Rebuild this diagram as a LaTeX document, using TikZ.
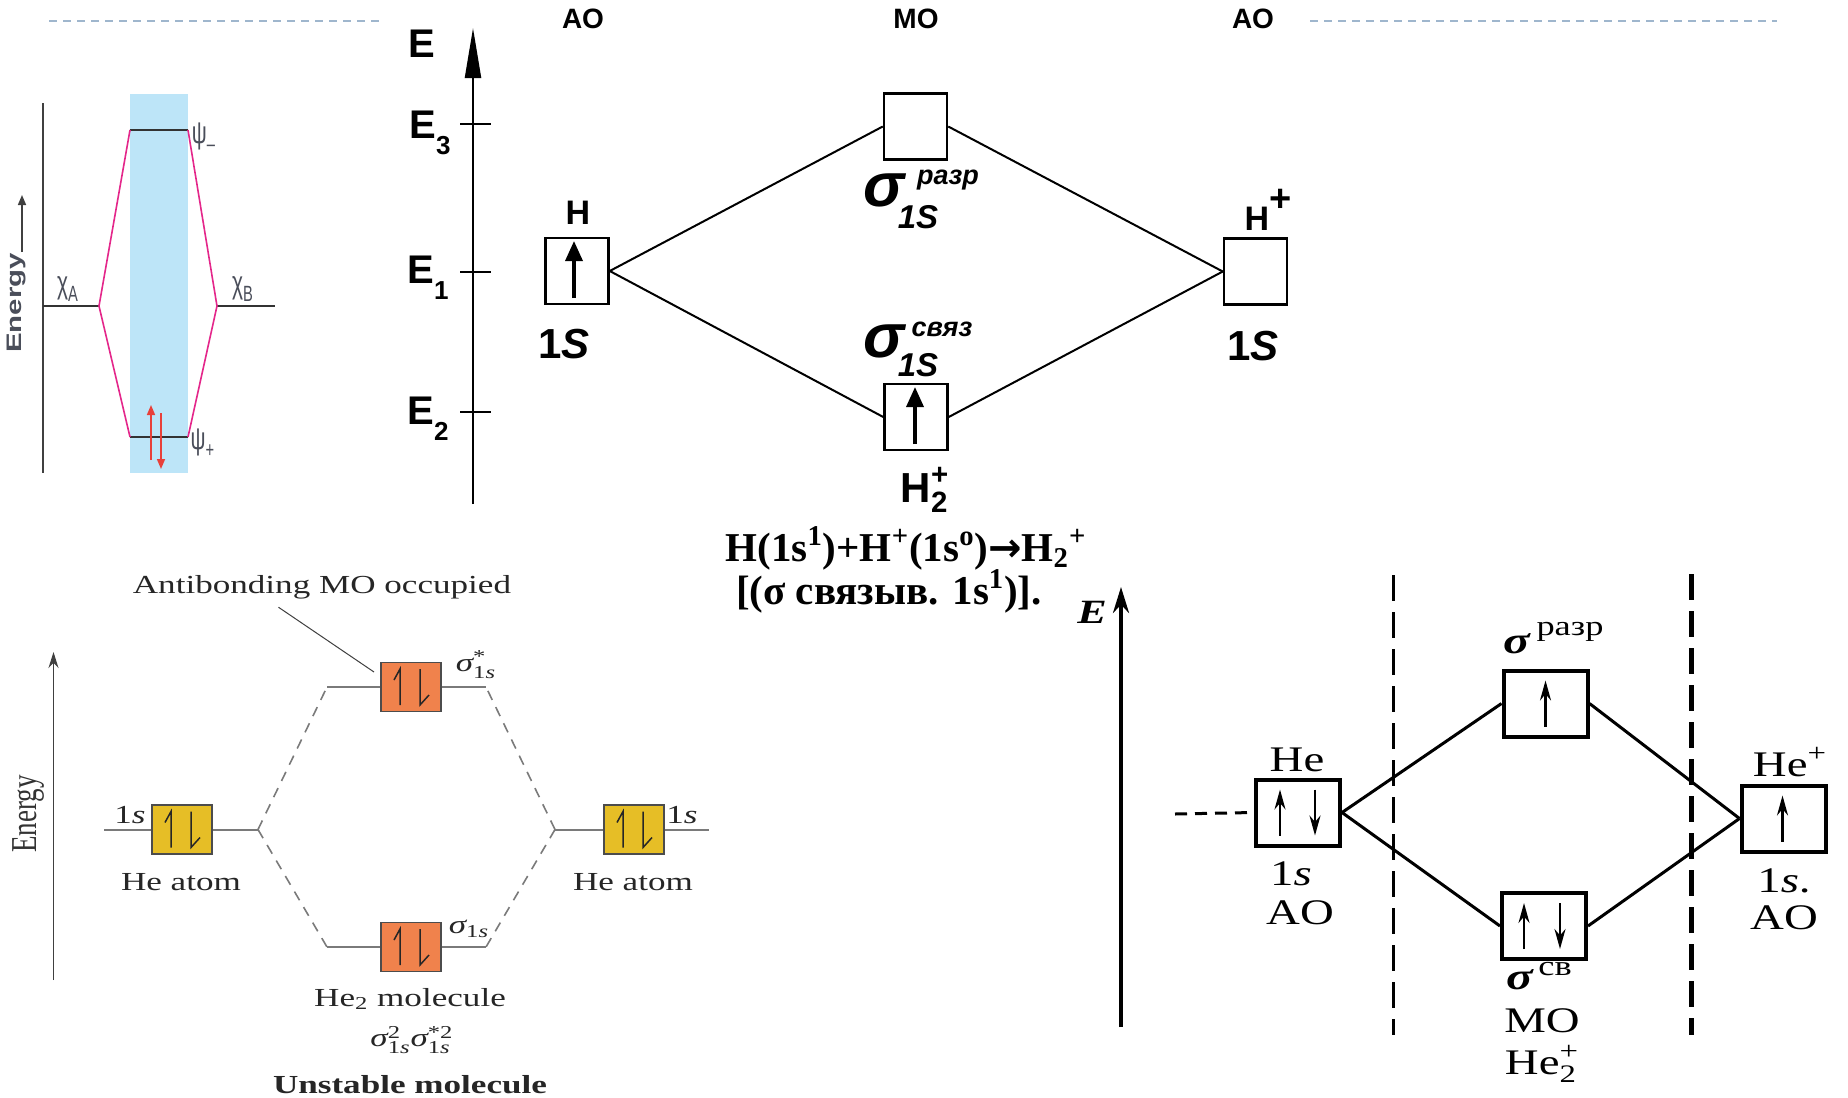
\documentclass[tikz,border=0pt]{standalone}
\usepackage{fontspec}
\usepackage{amsmath}
\usepackage{graphicx}
\setmainfont{Liberation Serif}
\newfontfamily\blf[FakeStretch=1.35]{Liberation Serif}
\newfontfamily\brf[FakeStretch=1.3]{Liberation Serif}
\newfontfamily\sansf{Liberation Sans}
\newfontfamily\arrf{DejaVu Sans}
\usetikzlibrary{arrows.meta,calc}
\definecolor{dashblue}{HTML}{9FB6CD}
\definecolor{bandblue}{HTML}{BDE5F8}
\definecolor{pinkln}{HTML}{E4268A}
\definecolor{redarr}{HTML}{E8403A}
\definecolor{orfill}{HTML}{F0824C}
\definecolor{yefill}{HTML}{E6BE26}
\definecolor{lvgray}{HTML}{7A7A7A}
\definecolor{tltext}{HTML}{4A4E5A}
\newcommand\fs[1]{\fontsize{#1}{#1}\selectfont}
\newcommand\lowsub[1]{\raisebox{-0.42em}{\fs{13}#1}}
\tikzset{
  tmbox/.style={draw=black, line width=1.25pt, minimum width=31.5pt, minimum height=33pt, inner sep=0pt},
  tmlink/.style={line width=1pt},
  tmlab/.style={font=\sansf\bfseries, inner sep=0pt},
  tmsig/.style={font=\sansf\bfseries\itshape\fs{31}, inner sep=0pt},
  tmsup/.style={font=\sansf\bfseries\itshape\fs{13.5}, inner sep=0pt},
  tmsub/.style={font=\sansf\bfseries\itshape\fs{16.5}, inner sep=0pt},
  tmarr/.style={line width=1.7pt, -{Triangle[length=10pt,width=8.5pt]}},
  tllvl/.style={line width=1pt, black!80},
  tlpink/.style={pinkln, line width=0.8pt},
  tlred/.style={redarr, line width=0.8pt, -{Triangle[length=5pt,width=4pt]}},
  tlab/.style={font=\sansf\fs{10.5}, text=tltext, inner sep=0pt},
  blbox/.style={draw=black!70, line width=0.6pt, minimum width=30pt, minimum height=24.5pt, inner sep=0pt},
  bllvl/.style={lvgray, line width=1pt},
  bldash/.style={lvgray, line width=0.8pt, dash pattern=on 5pt off 4pt},
  bllab/.style={font=\blf\fs{13}, inner sep=0pt, text=black!85},
  brbox/.style={draw=black, line width=2pt, minimum width=42pt, minimum height=33pt, inner sep=0pt},
  brlink/.style={line width=1.5pt},
  brlab/.style={font=\brf\fs{18}, inner sep=0pt},
  brsig/.style={font=\brf\bfseries\itshape\fs{19}, inner sep=0pt},
  brsup/.style={font=\brf\fs{14}, inner sep=0pt},
  brarr/.style={line width=1.2pt, -{Stealth[length=10pt,width=5.5pt]}},
  brvdash/.style={line width=#1, dash pattern=on 13pt off 5.5pt},
  pics/harps/.style={code={
    \draw[line width=0.75pt, black!85, line join=miter] (-11,18) -- (-11,-18) -- (-17,-7);
    \draw[line width=0.75pt, black!85, line join=miter] (9,-18) -- (9,18) -- (18,8);
  }},
  pics/brup/.style={code={\draw[brarr] (0,23) -- (0,-23);}},
  pics/brdown/.style={code={\draw[brarr] (0,-23) -- (0,23);}}
}
\begin{document}
\begin{tikzpicture}[x=0.5pt,y=-0.5pt]
\useasboundingbox (0,0) rectangle (1848,1098);
\fill[white] (0,0) rectangle (1848,1098);

% ---------- header dashed rules ----------
\coordinate (hl0) at (49,21); \coordinate (hl1) at (380,21);
\coordinate (hr0) at (1310,21); \coordinate (hr1) at (1777,21);
\draw[dashblue, line width=1pt, dash pattern=on 4pt off 3pt] (hl0) -- (hl1);
\draw[dashblue, line width=1pt, dash pattern=on 4pt off 3pt] (hr0) -- (hr1);

% ---------- top-left diagram ----------
\fill[bandblue] (130,94) rectangle (188,473);
\coordinate (tlax0) at (43,103); \coordinate (tlax1) at (43,473);
\draw[line width=1pt, black!75] (tlax0) -- (tlax1);
\coordinate (xa) at (99,306); \coordinate (xb) at (217,306);
\coordinate (pmL) at (130,130); \coordinate (pmR) at (188,130);
\coordinate (ppL) at (130,437); \coordinate (ppR) at (188,437);
\coordinate (xa0) at (43,306); \coordinate (xb1) at (275,306);
\draw[tllvl] (xa0) -- (xa);
\draw[tllvl] (xb) -- (xb1);
\draw[tllvl] (pmL) -- (pmR);
\draw[tllvl] (ppL) -- (ppR);
\draw[tlpink] (pmL) -- (xa) -- (ppL);
\draw[tlpink] (pmR) -- (xb) -- (ppR);
\coordinate (ru0) at (151,460); \coordinate (ru1) at (151,405);
\coordinate (rd0) at (161,413); \coordinate (rd1) at (161,469);
\draw[tlred] (ru0) -- (ru1);
\draw[tlred] (rd0) -- (rd1);
\node[tlab, rotate=90, font=\sansf\bfseries\fs{10.5}] (tlE) at (17,303) {\scalebox{1.4}[1]{Energy}};
\coordinate (tlea0) at (22,252); \coordinate (tlea1) at (22,195);
\draw[black!75, line width=0.8pt, -{Triangle[length=5pt,width=4pt]}] (tlea0) -- (tlea1);
\node[tlab] (chiA) at (68,289) {\scalebox{1}[1.5]{$\text{χ}_{\text{A}}$}};
\node[tlab] (chiB) at (243,289) {\scalebox{1}[1.5]{$\text{χ}_{\text{B}}$}};
\node[tlab] (psim) at (204,137) {\scalebox{1}[1.5]{$\text{ψ}_{\text{–}}$}};
\node[tlab] (psip) at (203,443) {\scalebox{1}[1.5]{$\text{ψ}_{\text{+}}$}};

% ---------- top-middle diagram (H2+) ----------
\coordinate (ax0) at (473,504); \coordinate (ax1) at (473,28);
\draw[line width=1.1pt, -{Triangle[length=25pt,width=8pt]}] (ax0) -- (ax1);
\coordinate (t3a) at (460,124); \coordinate (t3b) at (491,124);
\coordinate (t1a) at (460,272); \coordinate (t1b) at (491,272);
\coordinate (t2a) at (460,412); \coordinate (t2b) at (491,412);
\draw[line width=1pt] (t3a) -- (t3b);
\draw[line width=1pt] (t1a) -- (t1b);
\draw[line width=1pt] (t2a) -- (t2b);
\node[tmlab, font=\sansf\bfseries\fs{20}] (Etop) at (422,44) {E};
\node[tmlab, font=\sansf\bfseries\fs{20}, anchor=base west] (E3) at (409,138) {E\lowsub{3}};
\node[tmlab, font=\sansf\bfseries\fs{20}, anchor=base west] (E1) at (407,283) {E\lowsub{1}};
\node[tmlab, font=\sansf\bfseries\fs{20}, anchor=base west] (E2) at (407,424) {E\lowsub{2}};
\node[tmlab, font=\sansf\bfseries\fs{14}] (AO1) at (583,19) {AO};
\node[tmlab, font=\sansf\bfseries\fs{14}] (MO1) at (916,19) {MO};
\node[tmlab, font=\sansf\bfseries\fs{14}] (AO2) at (1253,19) {AO};

\node[tmbox] (hH) at (577,271) {};
\node[tmbox] (sA) at (915.5,126.5) {};
\node[tmbox] (sB) at (916,417) {};
\node[tmbox] (hP) at (1255.5,271.5) {};
\draw[tmlink] (hH.east) -- (sA.west);
\draw[tmlink] (hH.east) -- (sB.west);
\draw[tmlink] (hP.west) -- (sA.east);
\draw[tmlink] (hP.west) -- (sB.east);
\draw[tmarr] ($(hH.center)+(-3,27)$) -- ($(hH.center)+(-3,-30)$);
\draw[tmarr] ($(sB.center)+(-1,27)$) -- ($(sB.center)+(-1,-30)$);

\node[tmlab, font=\sansf\bfseries\fs{17}] (Hlab) at (578,213) {H};
\node[tmlab, font=\sansf\bfseries\fs{21}] (s1L) at (564,344) {1\textit{S}};
\node[tmlab, font=\sansf\bfseries\fs{17}] (HPlab) at (1268,210) {H\raisebox{0.55em}{\fs{19}+}};
\node[tmlab, font=\sansf\bfseries\fs{21}] (s1R) at (1253,346) {1\textit{S}};
% antibonding sigma label
\node[tmsig] (sAsig) at (884,190) {σ};
\node[tmsup] (sAsup) at (948,180) {разр};
\node[tmsub] (sAsub) at (918,217) {1S};
% bonding sigma label
\node[tmsig] (sBsig) at (884,341) {σ};
\node[tmsup] (sBsup) at (942,329) {связ};
\node[tmsub] (sBsub) at (918,365) {1S};
\node[tmlab, font=\sansf\bfseries\fs{21}] (H2lab) at (925,490) {$\text{H}^{\text{+}}_{\text{2}}$};

\node[font=\bfseries\fs{20.5}, anchor=base, inner sep=0pt] (eq1) at (906,561)
  {H(1s\textsuperscript{1})+H\textsuperscript{+}(1s\textsuperscript{o}){\arrf\bfseries\fs{20}→}H\textsubscript{2}\textsuperscript{+}};
\node[font=\bfseries\fs{20.5}, anchor=base, inner sep=0pt] (eq2) at (889,604)
  {[(σ связыв. 1s\textsuperscript{1})].};

% ---------- bottom-left diagram (He2) ----------
\coordinate (bax0) at (53.5,980); \coordinate (bax1) at (53.5,652);
\draw[black!75, line width=0.6pt, -{Stealth[length=8pt,width=5pt]}] (bax0) -- (bax1);
\node[font=\fs{13.5}, text=black!80, rotate=90, inner sep=0pt] (blE) at (28,814) {\scalebox{1}[1.35]{Energy}};

\node[blbox, fill=yefill] (lb) at (182,829.5) {};
\node[blbox, fill=yefill] (rb) at (634,829.5) {};
\node[blbox, fill=orfill] (tb) at (411,687) {};
\node[blbox, fill=orfill] (bb) at (411,947) {};
\pic at (lb) {harps};
\pic at (rb) {harps};
\pic at (tb) {harps};
\pic at (bb) {harps};
\coordinate (ll0) at (104,829.5); \coordinate (lv) at (258,829.5);
\coordinate (rv) at (555,829.5); \coordinate (rl1) at (709,829.5);
\coordinate (tl0) at (327,687); \coordinate (tl1) at (486,687);
\coordinate (bl0) at (327,947); \coordinate (bl1) at (486,947);
\draw[bllvl] (ll0) -- (lb.west);
\draw[bllvl] (lb.east) -- (lv);
\draw[bllvl] (rv) -- (rb.west);
\draw[bllvl] (rb.east) -- (rl1);
\draw[bllvl] (tl0) -- (tb.west);
\draw[bllvl] (tb.east) -- (tl1);
\draw[bllvl] (bl0) -- (bb.west);
\draw[bllvl] (bb.east) -- (bl1);
\draw[bldash] (lv) -- (tl0);
\draw[bldash] (lv) -- (bl0);
\draw[bldash] (rv) -- (tl1);
\draw[bldash] (rv) -- (bl1);
\node[bllab] (anti) at (322,587) {Antibonding MO occupied};
\coordinate (lead1) at (374,672);
\draw[black!75, line width=0.5pt] ($(anti.south west)+(146,8)$) -- (lead1);
\node[bllab] (l1s) at (130,815) {1\textit{s}};
\node[bllab] (r1s) at (682,815) {1\textit{s}};
\node[bllab] (sst) at (476,665) {$\text{\itshape σ}^{\text{*}}_{\text{1\itshape s}}$};
\node[bllab] (sbo) at (469,929) {$\text{\itshape σ}_{\text{1\itshape s}}$};
\node[bllab] (heL) at (181,882) {He atom};
\node[bllab] (heR) at (633,882) {He atom};
\node[bllab] (he2) at (410,999) {He\textsubscript{2} molecule};
\node[bllab] (cfg) at (412,1040) {$\text{\itshape σ}^{\text{2}}_{\text{1\itshape s}}\text{\itshape σ}^{\text{*2}}_{\text{1\itshape s}}$};
\node[bllab, font=\blf\bfseries\fs{13}] (unst) at (410,1085) {Unstable molecule};

% ---------- bottom-right diagram (He2+) ----------
\coordinate (rax0) at (1121,1027); \coordinate (rax1) at (1121,587);
\draw[line width=2pt, -{Stealth[length=13pt,width=8pt]}] (rax0) -- (rax1);
\node[brlab, font=\brf\bfseries\itshape\fs{17}] (brE) at (1092,612) {E};
\coordinate (vd1a) at (1393,575); \coordinate (vd1b) at (1393,1035);
\coordinate (vd2a) at (1691,574); \coordinate (vd2b) at (1691,1035);
\draw[brvdash=1.5pt] (vd1a) -- (vd1b);
\draw[brvdash=2.5pt] (vd2a) -- (vd2b);

\node[brbox] (heB) at (1298,812.5) {};
\node[brbox] (srB) at (1545.5,703.5) {};
\node[brbox] (scB) at (1544,926) {};
\node[brbox] (hpB) at (1783.5,818.5) {};
\draw[brlink] (heB.east) -- (srB.west);
\draw[brlink] (heB.east) -- (scB.west);
\draw[brlink] (hpB.west) -- (srB.east);
\draw[brlink] (hpB.west) -- (scB.east);
\coordinate (hed0) at (1175,814);
\draw[line width=1.5pt, dash pattern=on 6pt off 4pt] (hed0) -- (heB.west);
\pic at ($(heB.center)+(-18,0)$) {brup};
\pic at ($(heB.center)+(17,0)$) {brdown};
\pic at ($(srB.center)+(0,0)$) {brup};
\pic at ($(scB.center)+(-20,0)$) {brup};
\pic at ($(scB.center)+(16,0)$) {brdown};
\pic at ($(hpB.center)+(-1,0)$) {brup};

\node[brlab] (heLab) at (1297,760) {He};
\node[brlab] (he1s) at (1291,874) {1\textit{s}};
\node[brlab] (heAO) at (1300,913) {AO};
\node[brsig] (srSig) at (1517,644) {σ};
\node[brsup] (srSup) at (1570,632) {разр};
\node[brsig] (scSig) at (1520,980) {σ};
\node[brsup] (scSup) at (1555,969) {св};
\node[brlab] (moLab) at (1542,1021) {MO};
\node[brlab] (he2Lab) at (1542,1064) {$\text{He}^{\text{+}}_{\text{2}}$};
\node[brlab] (hpLab) at (1790,762) {$\text{He}^{\text{+}}$};
\node[brlab] (hp1s) at (1784,881) {1\textit{s}.};
\node[brlab] (hpAO) at (1784,918) {AO};
\end{tikzpicture}
\end{document}
